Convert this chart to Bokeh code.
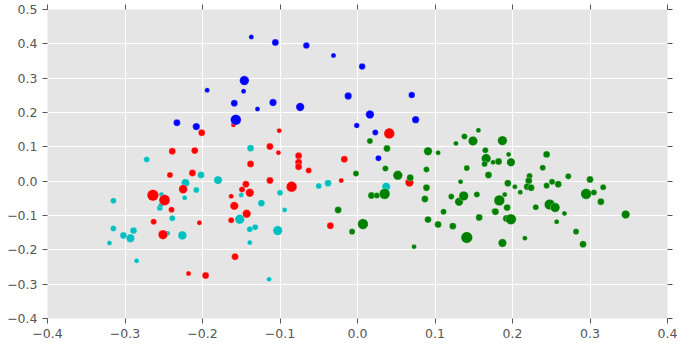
import math
from bokeh.plotting import figure
from bokeh.models import Range1d, FixedTicker, LinearAxis, ColumnDataSource, CustomJSTickFormatter
from bokeh.embed import file_html
from bokeh.resources import INLINE

# ---- data ----
blue_x = [-0.194, -0.233, -0.208, -0.137, -0.106, -0.066, -0.031, 0.006, -0.146, -0.147, -0.159,
          -0.129, -0.109, -0.074, -0.012, 0.070, -0.157, 0.016, 0.075, -0.001, 0.023, 0.027]
blue_y = [0.265, 0.170, 0.159, 0.420, 0.404, 0.395, 0.366, 0.334, 0.293, 0.262, 0.227,
          0.210, 0.229, 0.216, 0.248, 0.251, 0.179, 0.194, 0.179, 0.162, 0.142, 0.067]
blue_s = [13, 25, 28, 13, 25, 22, 13, 22, 47, 13, 25, 13, 28, 37, 28, 22, 59, 37, 28, 16, 19, 19]

red_x = [-0.201, -0.239, -0.210, -0.213, -0.242, -0.264, -0.249, -0.225, -0.240, -0.263, -0.251,
         -0.204, -0.218, -0.196, -0.160, -0.101, -0.113, -0.102, -0.076, -0.076, -0.076, -0.063,
         -0.138, -0.017, 0.041, -0.144, -0.149, -0.139, -0.163, -0.159, -0.143, -0.163, -0.113,
         -0.085, -0.021, 0.067, -0.035, -0.158]
red_y = [0.141, 0.087, 0.089, 0.024, 0.018, -0.041, -0.055, -0.023, -0.083, -0.118, -0.156,
         -0.121, -0.269, -0.275, 0.164, 0.147, 0.101, 0.083, 0.074, 0.055, 0.042, 0.031,
         0.050, 0.064, 0.139, -0.009, -0.024, -0.034, -0.044, -0.072, -0.095, -0.114, 0.002,
         -0.016, 0.002, -0.004, -0.130, -0.220]
red_s = [25, 25, 25, 25, 19, 69, 63, 40, 19, 19, 47, 13, 13, 25, 13, 13, 25, 13, 25, 25, 25, 19,
         25, 25, 59, 25, 19, 37, 13, 37, 37, 19, 25, 59, 13, 37, 25, 25]

cyan_x = [-0.272, -0.202, -0.222, -0.180, -0.208, -0.223, -0.253, -0.255, -0.254, -0.239, -0.315,
          -0.315, -0.302, -0.293, -0.289, -0.320, -0.285, -0.245, -0.226, -0.138, -0.150, -0.100,
          -0.124, -0.094, -0.152, -0.139, -0.132, -0.103, -0.139, -0.114, -0.050, -0.038, 0.037]
cyan_y = [0.063, 0.018, -0.005, 0.003, -0.026, -0.048, -0.039, -0.078, -0.070, -0.108, -0.057,
          -0.138, -0.158, -0.166, -0.144, -0.180, -0.232, -0.152, -0.158, 0.096, -0.040, -0.034,
          -0.064, -0.084, -0.111, -0.140, -0.134, -0.144, -0.179, -0.286, -0.014, -0.006, -0.016]
cyan_s = [19, 25, 37, 37, 19, 13, 13, 19, 13, 19, 19, 19, 25, 37, 25, 13, 13, 13, 40, 25, 13, 19,
          25, 13, 47, 19, 19, 47, 13, 13, 19, 25, 37]

green_x = [0.016, 0.038, 0.091, 0.104, 0.127, 0.036, 0.089, -0.002, 0.052, 0.138, 0.156, 0.149,
           0.187, 0.165, 0.166, 0.164, 0.175, 0.182, 0.198, 0.195, 0.244, 0.239, 0.141, 0.169,
           0.222, 0.221, 0.194, 0.203, 0.219, 0.224, 0.210, 0.154, 0.190, 0.183, 0.193, 0.176,
           0.178, 0.157, 0.192, 0.198, 0.230, 0.244, 0.251, 0.259, 0.272, 0.248, 0.255, 0.267,
           0.257, 0.300, 0.295, 0.305, 0.317, 0.314, 0.346, 0.282, 0.187, 0.216, 0.291, 0.141,
           0.131, 0.137, 0.133, 0.068, 0.089, 0.018, 0.025, 0.035, 0.087, 0.121, -0.025, 0.111,
           0.091, 0.104, 0.123, 0.007, -0.007, 0.073]
green_y = [0.117, 0.095, 0.087, 0.083, 0.110, 0.037, 0.034, 0.022, 0.017, 0.130, 0.148, 0.117,
           0.118, 0.090, 0.066, 0.050, 0.055, 0.057, 0.055, 0.078, 0.078, 0.039, 0.038, 0.018,
           0.015, 0.001, -0.006, -0.016, -0.016, -0.019, -0.032, -0.039, -0.039, -0.056, -0.077,
           -0.087, -0.089, -0.106, -0.109, -0.111, -0.076, -0.013, -0.002, -0.009, 0.014, -0.068,
           -0.077, -0.094, -0.118, 0.005, -0.037, -0.033, -0.018, -0.060, -0.097, -0.147, -0.180,
           -0.166, -0.184, -0.164, -0.060, -0.043, -0.002, 0.010, -0.019, -0.042, -0.042, -0.037,
           -0.052, -0.045, -0.084, -0.089, -0.112, -0.126, -0.131, -0.125, -0.147, -0.191]
green_s = [19, 25, 37, 13, 13, 19, 19, 19, 47, 19, 13, 47, 47, 19, 47, 19, 13, 25, 37, 13, 25, 19,
           19, 25, 19, 25, 25, 13, 25, 25, 13, 19, 13, 59, 25, 13, 25, 25, 25, 59, 19, 19, 19, 25,
           19, 59, 47, 13, 13, 25, 59, 19, 19, 25, 37, 19, 37, 13, 25, 69, 37, 47, 13, 25, 25, 25,
           19, 59, 25, 19, 25, 19, 25, 25, 25, 59, 19, 13]

x_ticks = [-0.4, -0.3, -0.2, -0.1, 0.0, 0.1, 0.2, 0.3, 0.4]
x_tick_labels = ["\u22120.4", "\u22120.3", "\u22120.2", "\u22120.1", "0.0", "0.1", "0.2", "0.3", "0.4"]
y_ticks = [-0.4, -0.3, -0.2, -0.1, 0.0, 0.1, 0.2, 0.3, 0.4, 0.5]
y_tick_labels = ["\u22120.4", "\u22120.3", "\u22120.2", "\u22120.1", "0.0", "0.1", "0.2", "0.3", "0.4", "0.5"]

groups = [
    ("#00BFBF", cyan_x, cyan_y, cyan_s),
    ("#FF0000", red_x, red_y, red_s),
    ("#008000", green_x, green_y, green_s),
    ("#0000FF", blue_x, blue_y, blue_s),
]

# ---- figure ----
p = figure(frame_width=620, frame_height=309, x_range=Range1d(-0.4, 0.4), y_range=Range1d(-0.4, 0.5),
           output_backend="svg", toolbar_location=None,
           min_border_left=47, min_border_right=12, min_border_top=9, min_border_bottom=28)
p.background_fill_color = "#E5E5E5"
p.border_fill_color = "white"
p.outline_line_color = None

p.xgrid.ticker = FixedTicker(ticks=x_ticks)
p.ygrid.ticker = FixedTicker(ticks=y_ticks)
p.grid.grid_line_color = "white"
p.grid.grid_line_width = 1

def style_axis(ax, ticks, labels, show_labels):
    ax.ticker = FixedTicker(ticks=ticks)
    ax.axis_line_color = None
    ax.major_tick_line_color = "#555555"
    ax.major_tick_in = 0
    ax.major_tick_out = 5
    ax.minor_tick_line_color = None
    ax.major_label_text_font = "DejaVu Sans"
    ax.major_label_text_color = "#555555"
    ax.major_label_text_font_size = "12.5px"
    ax.major_label_standoff = 5
    if show_labels:
        ax.major_label_overrides = {t: l for t, l in zip(ticks, labels)}
    else:
        ax.formatter = CustomJSTickFormatter(code="return '';")
        ax.major_label_standoff = 0
        ax.major_label_text_font_size = "1px"

style_axis(p.xaxis[0], x_ticks, x_tick_labels, True)
style_axis(p.yaxis[0], y_ticks, y_tick_labels, True)
top_ax = LinearAxis()
right_ax = LinearAxis()
style_axis(top_ax, x_ticks, None, False)
style_axis(right_ax, y_ticks, None, False)
p.add_layout(top_ax, "above")
p.add_layout(right_ax, "right")

for color, xs, ys, ss in groups:
    diam = [math.sqrt(s) * 100.0 / 72.0 for s in ss]
    src = ColumnDataSource(dict(x=xs, y=ys, d=diam))
    p.scatter("x", "y", size="d", source=src, fill_color=color, line_color="white",
              line_width=0.6, line_alpha=0.5)

open("out.html", "w").write(file_html(p, INLINE))
